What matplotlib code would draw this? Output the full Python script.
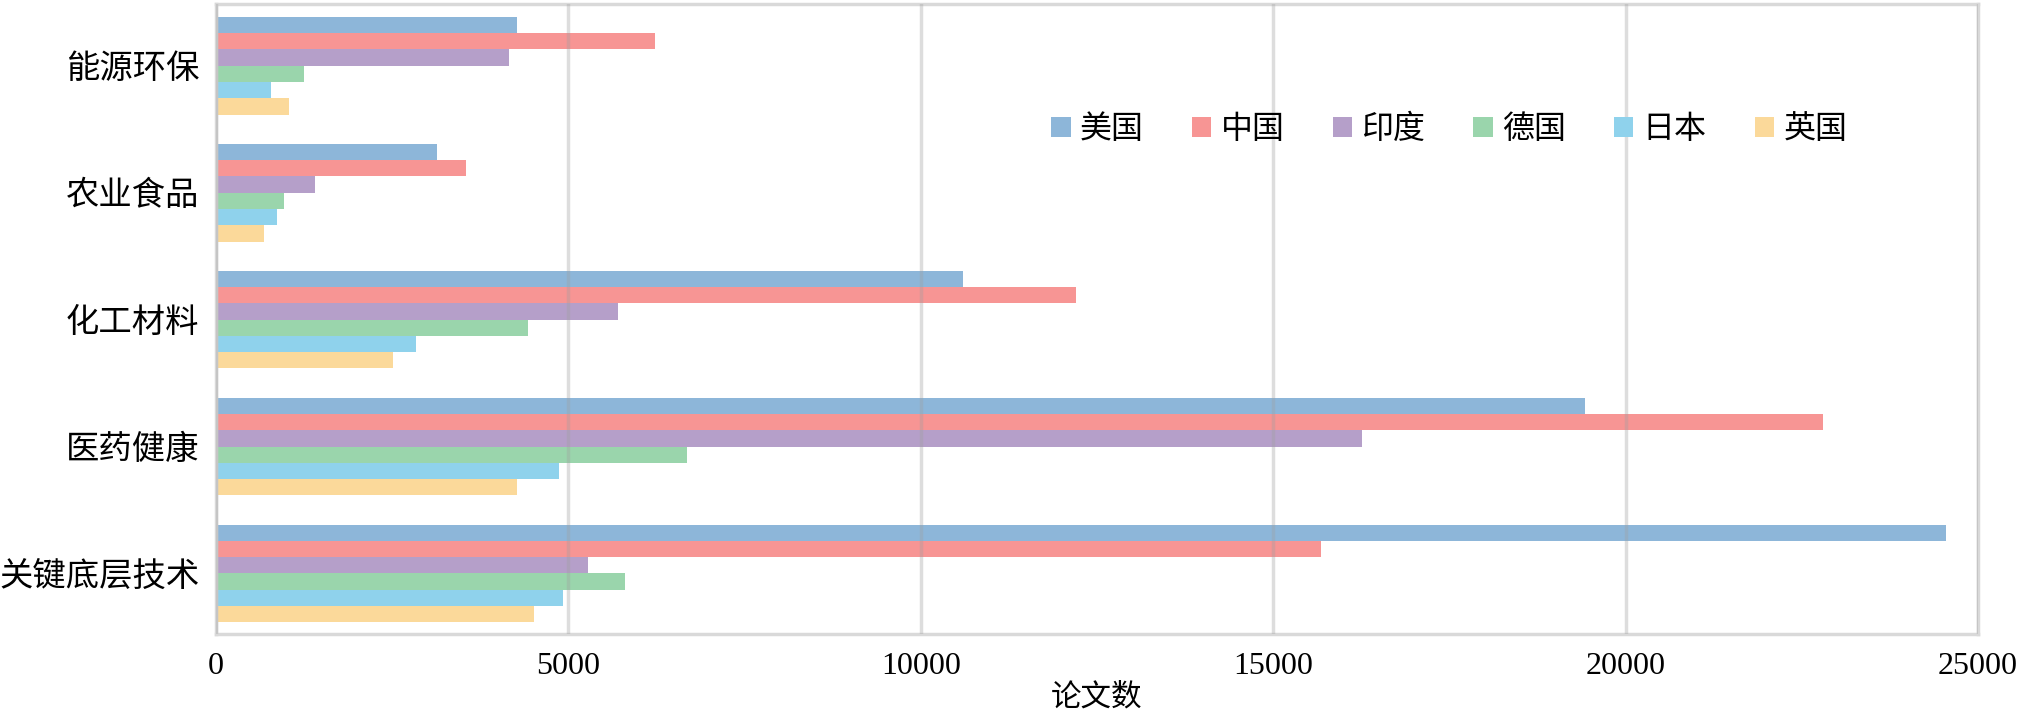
import matplotlib
matplotlib.use("Agg")
import matplotlib.pyplot as plt
import numpy as np

plt.rcParams['font.family'] = ['Liberation Serif', 'Noto Sans CJK SC', 'DejaVu Sans']

categories = ['能源环保', '农业食品', '化工材料', '医药健康', '关键底层技术']
countries = ['美国', '中国', '印度', '德国', '日本', '英国']
usa     = [4270, 3130, 10600, 19430, 24550]
china   = [6235, 3545, 12200, 22800, 15685]
india   = [4160, 1405, 5705, 16258, 5275]
germany = [1254, 970, 4425, 6680, 5800]
japan   = [785, 868, 2835, 4870, 4927]
uk      = [1038, 678, 2505, 4268, 4515]
xticks = [0, 5000, 10000, 15000, 20000, 25000]

series = [usa, china, india, germany, japan, uk]
colors = ['#8DB6D9', '#F79594', '#B59FC9', '#9AD5AC', '#8FD2EC', '#FBD99A']

fig = plt.figure(figsize=(20.21, 7.21), dpi=100)
ax = fig.add_axes([0.1069, 0.1207, 0.9787 - 0.1069, 0.9945 - 0.1207])

n = len(categories)
ypos = np.arange(n)[::-1]  # first category at top
group = 0.77
h = group / len(series)
for i, (vals, c, lab) in enumerate(zip(series, colors, countries)):
    offs = group / 2 - h * (i + 0.5)
    ax.barh(ypos + offs, vals, height=h, color=c, label=lab, zorder=2)

ax.set_xlim(0, 25000)
ax.set_ylim(-0.477, n - 1 + 0.487)
ax.set_xticks(xticks)
ax.set_xticklabels([str(t) for t in xticks], fontsize=23, family='Liberation Serif')
ax.set_yticks(ypos)
ax.set_yticklabels(categories, fontsize=24)
ax.tick_params(axis='both', length=0)
ax.tick_params(axis='x', pad=13)
ax.tick_params(axis='y', pad=12)

ax.grid(axis='x', color='#A0A0A0', alpha=0.35, linewidth=2.5, zorder=3)
ax.set_axisbelow(False)
for s in ax.spines.values():
    s.set_color('#D9D9D9')
    s.set_linewidth(2.5)

ax.set_xlabel('论文数', fontsize=22, labelpad=2)

leg = ax.legend(loc='center', bbox_to_anchor=(0.70, 0.80), ncol=6, frameon=False,
                fontsize=23, handlelength=0.6, handleheight=0.6, handletextpad=0.3,
                columnspacing=1.5)

fig.savefig('out.png', dpi=100)
